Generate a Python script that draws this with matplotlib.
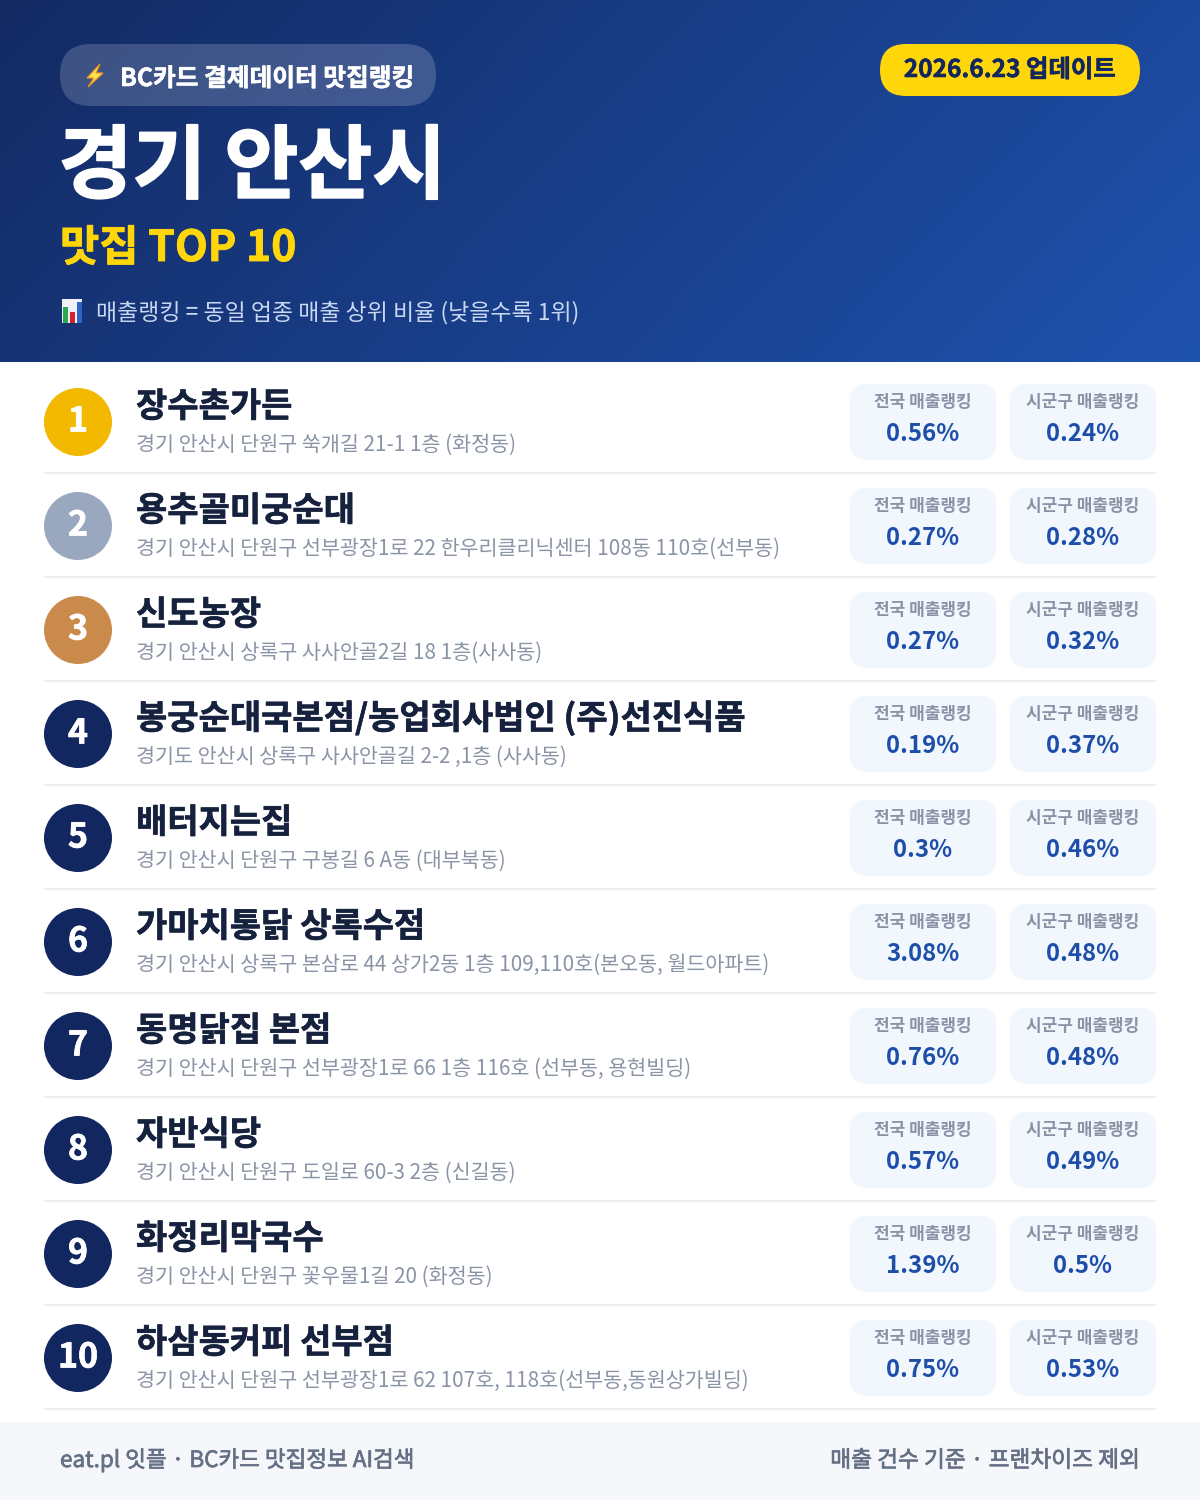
import matplotlib
matplotlib.use('Agg')
import matplotlib.pyplot as plt
import matplotlib.patheffects as pe
import numpy as np
from matplotlib.patches import FancyBboxPatch, Circle, Rectangle, Polygon

plt.rcParams['font.family'] = ['Noto Sans CJK KR', 'DejaVu Sans']

# data
ranks = ['1', '2', '3', '4', '5', '6', '7', '8', '9', '10']
names = ['장수촌가든', '용추골미궁순대', '신도농장', '봉궁순대국본점/농업회사법인 (주)선진식품',
         '배터지는집', '가마치통닭 상록수점', '동명닭집 본점', '자반식당', '화정리막국수', '하삼동커피 선부점']
addresses = ['경기 안산시 단원구 쑥개길 21-1 1층 (화정동)',
             '경기 안산시 단원구 선부광장1로 22 한우리클리닉센터 108동 110호(선부동)',
             '경기 안산시 상록구 사사안골2길 18 1층(사사동)',
             '경기도 안산시 상록구 사사안골길 2-2 ,1층 (사사동)',
             '경기 안산시 단원구 구봉길 6 A동 (대부북동)',
             '경기 안산시 상록구 본삼로 44 상가2동 1층 109,110호(본오동, 월드아파트)',
             '경기 안산시 단원구 선부광장1로 66 1층 116호 (선부동, 용현빌딩)',
             '경기 안산시 단원구 도일로 60-3 2층 (신길동)',
             '경기 안산시 단원구 꽃우물1길 20 (화정동)',
             '경기 안산시 단원구 선부광장1로 62 107호, 118호(선부동,동원상가빌딩)']
national = ['0.56%', '0.27%', '0.27%', '0.19%', '0.3%', '3.08%', '0.76%', '0.57%', '1.39%', '0.75%']
district = ['0.24%', '0.28%', '0.32%', '0.37%', '0.46%', '0.48%', '0.48%', '0.49%', '0.5%', '0.53%']
badge_colors = ['#f2b900', '#9aa8bf', '#c98a4b'] + ['#12265f'] * 7

NAVY = '#16213e'
BLUE = '#1e4fa8'
GREY = '#8a94a6'


def px(size):
    # font size in pixels to points at dpi 100
    return size * 0.72


def heavy(color, width):
    # thin outline in the text colour, for a weight above Bold
    return [pe.withStroke(linewidth=width, foreground=color)]


def rounded(ax, x0, y0, x1, y1, r, color, alpha=1.0, z=2):
    ax.add_patch(FancyBboxPatch((x0 + r, y0 + r), x1 - x0 - 2 * r, y1 - y0 - 2 * r,
                                boxstyle='round,pad=%f,rounding_size=%f' % (r, r),
                                fc=color, ec='none', alpha=alpha, zorder=z))


fig = plt.figure(figsize=(12, 15), dpi=100, facecolor='white')
ax = fig.add_axes([0, 0, 1, 1])
ax.set_xlim(0, 1200)
ax.set_ylim(1500, 0)
ax.axis('off')

# header gradient, top left dark to bottom right lighter
yy, xx = np.mgrid[0:362, 0:1200]
t = (xx / 1200 * 0.77 + yy / 362 * 0.23)
start = np.array([0x13, 0x2a, 0x63]) / 255
end = np.array([0x1f, 0x52, 0xae]) / 255
grad = start[None, None, :] + (end - start)[None, None, :] * t[:, :, None]
ax.imshow(grad, extent=(0, 1200, 362, 0), aspect='auto', zorder=1, interpolation='bilinear')
ax.set_xlim(0, 1200)
ax.set_ylim(1500, 0)

# pill with source label
rounded(ax, 60, 44, 436, 106, 31, '#ffffff', alpha=0.18)
ax.add_patch(Polygon([(100, 64), (87, 78), (94, 78), (88, 87), (103, 73), (96, 73)],
                     fc='#ffe14d', ec='#f29a1f', lw=0.8, zorder=3))
ax.text(120, 86, 'BC카드 결제데이터 맛집랭킹', color='white', fontsize=px(24.7), fontweight='bold', zorder=3,
        path_effects=heavy('white', 0.4))

# update pill
rounded(ax, 880, 44, 1140, 96, 26, '#ffd60a')
ax.text(1010, 77, '2026.6.23 업데이트', color='#12265f', fontsize=px(24.4), fontweight='bold',
        ha='center', zorder=3, path_effects=heavy('#12265f', 0.4))

ax.text(58.5, 192, '경기 안산시', color='white', fontsize=px(80.3), fontweight='bold', zorder=3,
        path_effects=heavy('white', 1.2))
ax.text(60, 261, '맛집 TOP 10', color='#ffd60a', fontsize=px(42.7), fontweight='bold', zorder=3,
        path_effects=heavy('#ffd60a', 0.6))

# chart icon in the note line
ax.add_patch(Rectangle((62, 299), 20, 24, fc='#eef2f8', ec='none', zorder=3))
ax.add_patch(Rectangle((63, 307), 4.5, 16, fc='#2fa84f', ec='none', zorder=4))
ax.add_patch(Rectangle((70, 312), 4.5, 11, fc='#d9202c', ec='none', zorder=4))
ax.add_patch(Rectangle((77, 302), 4.5, 21, fc='#2a66c4', ec='none', zorder=4))
ax.text(96, 319, '매출랭킹 = 동일 업종 매출 상위 비율 (낮을수록 1위)', color='#c9d8f2',
        fontsize=px(22.9), zorder=3)

# rows
for i in range(len(ranks)):
    top = 104 * i
    ax.add_patch(Circle((78, 422 + top), 34, fc=badge_colors[i], ec='none', zorder=2))
    ax.text(78, 431.5 + top, ranks[i], color='white', fontsize=px(34), fontweight='bold',
            ha='center', zorder=3, path_effects=heavy('white', 0.5))
    ax.text(136, 417 + top, names[i], color=NAVY, fontsize=px(34), fontweight='bold', zorder=3,
            path_effects=heavy(NAVY, 0.4))
    ax.text(136, 451 + top, addresses[i], color=GREY, fontsize=px(20.7), zorder=3)
    for x0, label, value in [(850, '전국 매출랭킹', national[i]), (1010, '시군구 매출랭킹', district[i])]:
        rounded(ax, x0, 384 + top, x0 + 146, 460 + top, 16, '#f2f6fd')
        ax.text(x0 + 73, 407 + top, label, color=GREY, fontsize=px(17), fontweight='bold',
                ha='center', zorder=3)
        ax.text(x0 + 73, 441 + top, value, color=BLUE, fontsize=px(24), fontweight='bold',
                ha='center', zorder=3)
    ax.plot([44, 1156], [473 + top, 473 + top], color='#eceef2', lw=1.44, solid_capstyle='butt', zorder=2)

# footer
ax.add_patch(Rectangle((0, 1422), 1200, 78, fc='#f5f7fb', ec='none', zorder=1))
ax.text(60, 1467, 'eat.pl 잇플 · BC카드 맛집정보 AI검색', color='#667085', fontsize=px(22.5),
        zorder=3, path_effects=heavy('#667085', 0.5))
ax.text(1140, 1467, '매출 건수 기준 · 프랜차이즈 제외', color='#667085', fontsize=px(22.7),
        ha='right', zorder=3, path_effects=heavy('#667085', 0.5))

fig.savefig('out.png', dpi=100)
